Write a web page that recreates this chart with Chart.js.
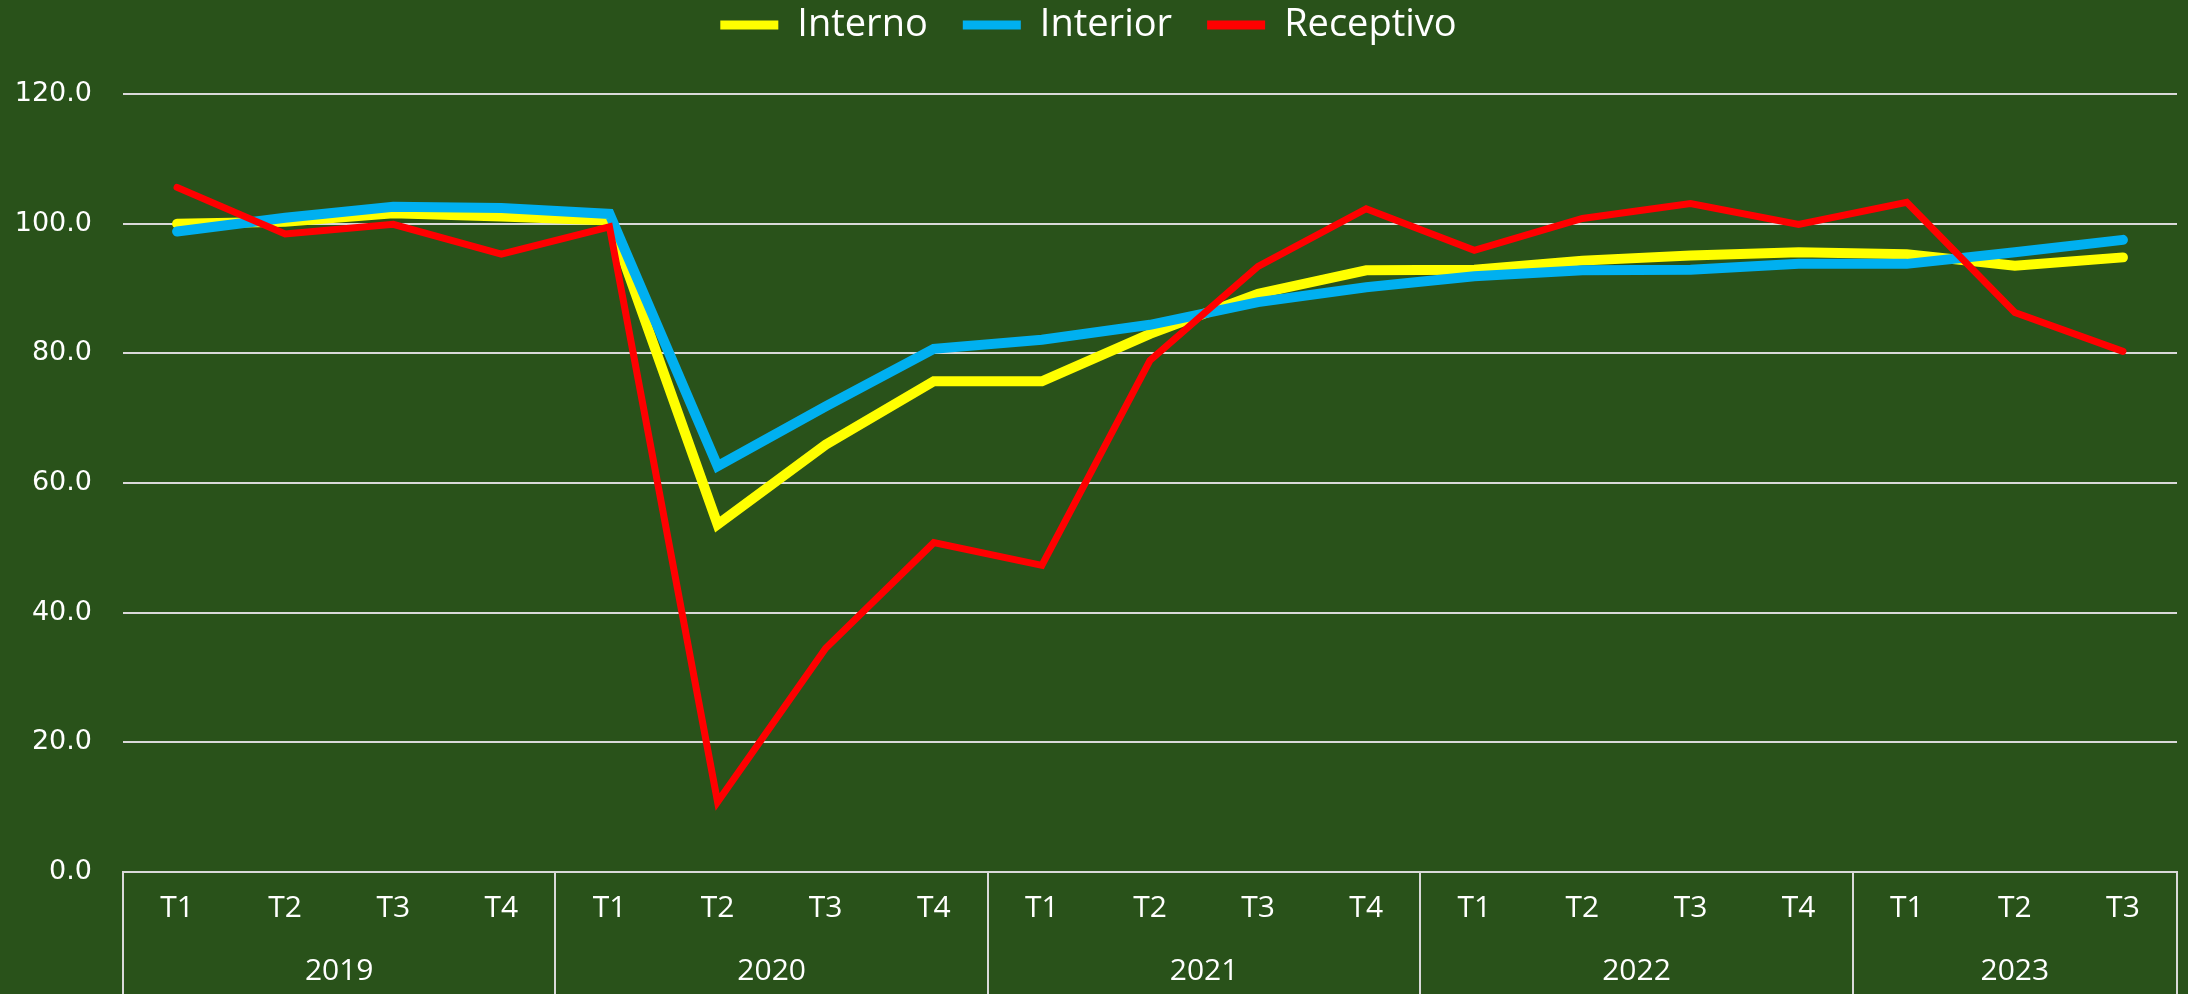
<!DOCTYPE html>
<html>
<head>
<meta charset="utf-8">
<script src="https://cdn.jsdelivr.net/npm/chart.js@4"></script>
<style>
  html, body { margin: 0; padding: 0; background: #29521a; }
  #wrap { width: 2188px; height: 994px; }
</style>
</head>
<body>
<div id="wrap"><canvas id="myChart" width="2188" height="994"></canvas></div>
<script>
// quarters on the x axis, grouped by year
var quarters = ['T1', 'T2', 'T3', 'T4', 'T1', 'T2', 'T3', 'T4', 'T1', 'T2', 'T3', 'T4',
                'T1', 'T2', 'T3', 'T4', 'T1', 'T2', 'T3'];
var years = ['2019', '2020', '2021', '2022', '2023'];
var quartersPerYear = [4, 4, 4, 4, 3];

var interno = [100.0, 100.3, 101.6, 101.1, 100.5, 53.6, 65.9, 75.7, 75.7, 83.0,
               89.2, 92.8, 92.9, 94.3, 95.1, 95.6, 95.3, 93.5, 94.8];
var interior = [98.8, 100.9, 102.6, 102.4, 101.5, 62.6, 71.8, 80.7, 82.1, 84.4,
                87.9, 90.2, 91.9, 92.8, 92.9, 93.8, 93.8, 95.6, 97.5];
var receptivo = [105.6, 98.4, 99.9, 95.3, 99.5, 10.8, 34.5, 50.8, 47.3, 78.9,
                 93.4, 102.3, 95.9, 100.8, 103.1, 99.9, 103.3, 86.3, 80.3];

var yTicks = [0, 20, 40, 60, 80, 100, 120];

var gridColor = '#d9d9d9';
var textColor = '#ffffff';

// draws the year row under the quarters, with the divider lines
var yearAxis = {
    id: 'yearAxis',
    afterDraw: function(chart) {
        var ctx = chart.ctx;
        var x = chart.scales.x;
        var area = chart.chartArea;
        var bottom = chart.height;
        ctx.save();
        ctx.strokeStyle = gridColor;
        ctx.lineWidth = 2;
        ctx.fillStyle = textColor;
        ctx.font = '30px "Open Sans"';
        ctx.textAlign = 'center';
        ctx.textBaseline = 'middle';

        var start = 0;
        var edges = [area.left];
        for (var i = 0; i < years.length; i++) {
            var end = start + quartersPerYear[i] - 1;
            var mid = (x.getPixelForValue(start) + x.getPixelForValue(end)) / 2;
            ctx.fillText(years[i], mid, 971);
            if (end < quarters.length - 1) {
                edges.push((x.getPixelForValue(end) + x.getPixelForValue(end + 1)) / 2);
            }
            start = end + 1;
        }
        edges.push(area.right);

        edges.forEach(function(ex) {
            ctx.beginPath();
            ctx.moveTo(Math.round(ex), area.bottom);
            ctx.lineTo(Math.round(ex), bottom);
            ctx.stroke();
        });
        ctx.restore();
    }
};

var ctx = document.getElementById('myChart').getContext('2d');
var chart = new Chart(ctx, {
    type: 'line',
    data: {
        labels: quarters,
        datasets: [{
            label: 'Interno',
            data: interno,
            borderColor: '#ffff00',
            backgroundColor: '#ffff00',
            borderWidth: 10,
            xAxisID: 'x',
            order: 3
        }, {
            label: 'Interior',
            data: interior,
            borderColor: '#00b0f0',
            backgroundColor: '#00b0f0',
            borderWidth: 10,
            xAxisID: 'x',
            order: 2
        }, {
            label: 'Receptivo',
            data: receptivo,
            borderColor: '#ff0000',
            backgroundColor: '#ff0000',
            borderWidth: 7,
            xAxisID: 'x',
            order: 1
        }]
    },
    options: {
        responsive: false,
        animation: false,
        layout: { padding: { top: -29, right: 11, left: 0, bottom: 0 } },
        elements: {
            line: { tension: 0, borderCapStyle: 'round', borderJoinStyle: 'miter' },
            point: { radius: 0, hoverRadius: 0 }
        },
        plugins: {
            tooltip: { enabled: false },
            legend: {
                position: 'top',
                labels: {
                    color: textColor,
                    font: { family: 'Open Sans', size: 38 },
                    boxWidth: 58,
                    boxHeight: 9,
                    padding: 35,
                    useBorderRadius: true,
                    borderRadius: 4,
                    generateLabels: function(chart) {
                        return chart.data.datasets.map(function(ds, i) {
                            return {
                                text: ds.label,
                                fillStyle: ds.borderColor,
                                strokeStyle: ds.borderColor,
                                lineWidth: 0,
                                fontColor: textColor,
                                datasetIndex: i
                            };
                        });
                    }
                }
            }
        },
        scales: {
            x: {
                offset: true,
                grid: { display: false, drawTicks: false },
                border: { display: true, color: gridColor, width: 2 },
                ticks: {
                    color: textColor,
                    font: { family: 'Open Sans', size: 30 },
                    padding: 18,
                    maxRotation: 0,
                    autoSkip: false
                },
                afterFit: function(scale) { scale.height = 122; }
            },
            // empty band between the legend and the plot
            gap: {
                type: 'category',
                axis: 'x',
                position: 'top',
                grid: { display: false, drawTicks: false },
                border: { display: false },
                ticks: { display: false },
                afterFit: function(scale) { scale.height = 40; }
            },
            y: {
                min: 0,
                max: 120,
                afterBuildTicks: function(scale) {
                    scale.ticks = yTicks.map(function(v) { return { value: v }; });
                },
                grid: { color: gridColor, lineWidth: 2, drawTicks: false },
                border: { display: false },
                ticks: {
                    color: textColor,
                    font: { family: 'DejaVu Sans', size: 27 },
                    padding: 31,
                    callback: function(v) { return Number(v).toFixed(1); }
                },
                afterFit: function(scale) { scale.width = 123; }
            }
        }
    },
    plugins: [yearAxis]
});
</script>
</body>
</html>
